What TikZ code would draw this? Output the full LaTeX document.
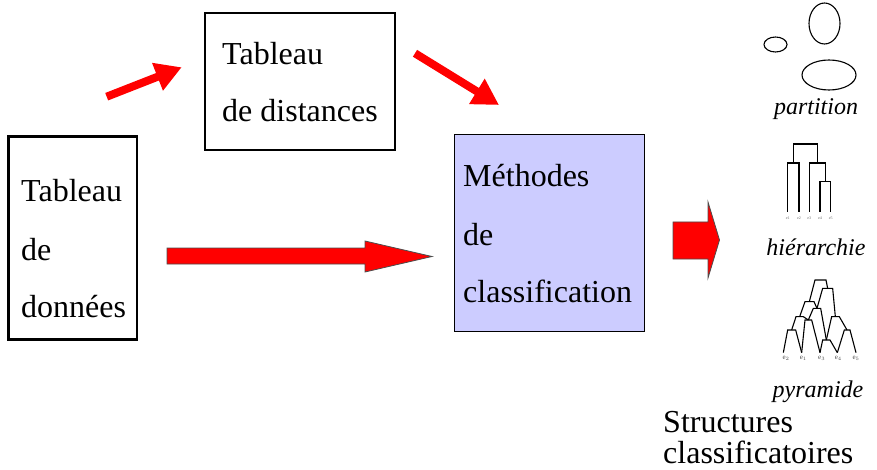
\documentclass[tikz,border=0pt]{standalone}
\usepackage{fontspec}
\setmainfont{Liberation Serif}
\usetikzlibrary{arrows.meta}
\definecolor{lavender}{RGB}{204,204,255}
\begin{document}
\begin{tikzpicture}[x=1pt,y=-1pt,
  box/.style={draw=black,line width=2.5pt,inner sep=0pt},
  methbox/.style={draw=black,line width=1pt,fill=lavender,inner sep=0pt},
  lbl/.style={anchor=base west,inner sep=0pt,font=\fontsize{32}{32}\selectfont},
  capt/.style={anchor=base,inner sep=0pt,font=\fontsize{24}{24}\selectfont\itshape},
  thinarrow/.style={draw=red,line width=8pt,-{Triangle[length=26pt,width=28pt]}},
  blockarrow/.style={fill=red,draw=black!70,line width=0.8pt,line join=miter},
  tree/.style={draw=black,line width=1.1pt},
  leaf/.style={inner sep=0pt,anchor=base,font=\fontsize{4}{4}\selectfont,text=black!60},
  pleaf/.style={inner sep=0pt,anchor=base,font=\fontsize{7}{7}\selectfont,text=black!70}
]
\useasboundingbox (0,0) rectangle (877,470);

% boxes
\node[box,minimum width=128.5pt,minimum height=203pt] (donnees) at (72.75,238) {};
\node[box,minimum width=190pt,minimum height=137pt] (distances) at (300,81.5) {};
\node[methbox,minimum width=190pt,minimum height=196pt] (methodes) at (549.5,233) {};

% box texts
\node[lbl] (d1) at (21,202) {Tableau};
\node[lbl] (d2) at (21,260) {de};
\node[lbl] (d3) at (21,317) {données};
\node[lbl] (t1) at (222,65) {Tableau};
\node[lbl] (t2) at (222,122) {de distances};
\node[lbl] (m1) at (463,187) {Méthodes};
\node[lbl] (m2) at (463,245) {de};
\node[lbl] (m3) at (463,302) {classification};

% red arrows
\coordinate (a1s) at (106.7,96.7);
\coordinate (a1e) at (181.7,67.3);
\coordinate (a2s) at (415,53.3);
\coordinate (a2e) at (499,105);
\draw[thinarrow] (a1s) -- (a1e);
\draw[thinarrow] (a2s) -- (a2e);

% block arrow to the methods box
\draw[blockarrow] (167,248) -- (365,248) -- (365,241) -- (432,256.5)
  -- (365,272) -- (365,264) -- (167,264) -- cycle;
% block arrow to the structures
\draw[blockarrow] (673,222) -- (708,222) -- (708,202) -- (719.5,240)
  -- (708,278) -- (708,259) -- (673,259) -- cycle;

% partition
\draw[tree] (775.5,44.5) ellipse [x radius=11.5, y radius=7.5];
\draw[tree] (824.5,23.5) ellipse [x radius=15.5, y radius=20.5];
\draw[tree] (829,75) ellipse [x radius=27, y radius=15];
\node[capt] (partition) at (816,115) {partition};

% hierarchy
\draw[tree] (787.7,211.7) -- (787.7,163) -- (799,163) -- (799,211.7);
\draw[tree] (820,211.7) -- (820,181.7) -- (830.7,181.7) -- (830.7,211.7);
\draw[tree] (809.3,211.7) -- (809.3,163) -- (825.3,163) -- (825.3,181.7);
\draw[tree] (793.3,163) -- (793.3,144) -- (817.3,144) -- (817.3,163);
\foreach \x/\n in {787.7/1,799/2,809.3/3,820/4,830.7/5}
  \node[leaf] (h\n) at (\x,219) {e\n};
\node[capt] (hierarchie) at (816,255) {hiérarchie};

% pyramid
\begin{scope}[shift={(750,270)},x=0.3333pt,y=-0.3333pt]
  \draw[tree] (100,248) -- (113,180) -- (137,180) -- (155,248);
  \draw[tree] (155,248) -- (165,150) -- (185,150) -- (210,248);
  \draw[tree] (210,248) -- (218,210) -- (240,210) -- (262,248);
  \draw[tree] (262,248) -- (283,180) -- (300,180) -- (318,248);
  \draw[tree] (125,180) -- (138,140) -- (160,140) -- (175,150);
  \draw[tree] (175,150) -- (190,115) -- (212,115) -- (229,210);
  \draw[tree] (229,210) -- (245,140) -- (268,140) -- (291,180);
  \draw[tree] (149,140) -- (165,95) -- (192,95) -- (201,115);
  \draw[tree] (201,115) -- (218,55) -- (248,55) -- (256,140);
  \draw[tree] (178,95) -- (195,30) -- (228,30) -- (233,55);
\end{scope}
\node[pleaf] (p2) at (786,359) {e$_2$};
\node[pleaf] (p1) at (803.3,359) {e$_1$};
\node[pleaf] (p3) at (821.7,359) {e$_3$};
\node[pleaf] (p4) at (838.3,359) {e$_4$};
\node[pleaf] (p5) at (856,359) {e$_5$};
\node[capt] (pyramide) at (818,397) {pyramide};

% caption of the structures
\node[lbl] (s1) at (663,432) {Structures};
\node[lbl] (s2) at (663,463) {classificatoires};
\end{tikzpicture}
\end{document}
